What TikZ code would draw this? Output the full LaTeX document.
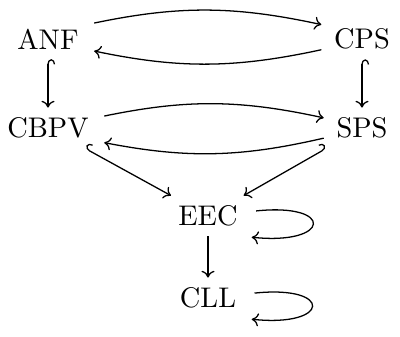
\documentclass[tikz,border=0pt]{standalone}
\usepackage{tikz}
\usetikzlibrary{arrows.meta}

\begin{document}
\begin{tikzpicture}[
  x=0.352pt, y=-0.352pt,
  lang/.style={inner sep=3.33pt},
  arr/.style={-{To[length=2.4pt,width=4.6pt]}, line width=0.45pt},
  hk/.style={{Hooks[right,length=1.8pt,width=5pt]}-{To[length=2.4pt,width=4.6pt]}, line width=0.45pt},
  hkl/.style={{Hooks[left,length=1.8pt,width=5pt]}-{To[length=2.4pt,width=4.6pt]}, line width=0.45pt}
]
\useasboundingbox (0,0) rectangle (400,337);
\node[lang] (anf) at (48,39) {ANF};
\node[lang] (cps) at (362,39) {CPS};
\node[lang] (cbpv) at (48,128) {CBPV};
\node[lang] (sps) at (362,128) {SPS};
\node[lang] (eec) at (208,216) {EEC};
\node[lang] (cll) at (208,298) {CLL};
\draw[arr, shorten <=2pt, shorten >=1pt] (anf.20) to[bend left=12] (cps.160);
\draw[arr, shorten <=1pt, shorten >=2pt] (cps.195) to[bend left=12] (anf.-15);
\draw[arr, shorten <=2pt, shorten >=1pt] (cbpv.12) to[bend left=12] (sps.165);
\draw[arr, shorten <=1pt, shorten >=2pt] (sps.195) to[bend left=12] (cbpv.-15);
\draw[hk] (anf) -- (cbpv);
\draw[hk] (cps) -- (sps);
\draw[hk] (cbpv) -- (eec);
\draw[hkl] (sps) -- (eec);
\draw[arr] (eec) -- (cll);
% self loops
\draw[arr, shorten <=3pt, shorten >=3pt] (eec.6) to[out=6, in=-6, distance=31pt] (eec.-30);
\draw[arr, shorten <=3pt, shorten >=3pt] (cll.6) to[out=6, in=-6, distance=31pt] (cll.-30);
\end{tikzpicture}
\end{document}
